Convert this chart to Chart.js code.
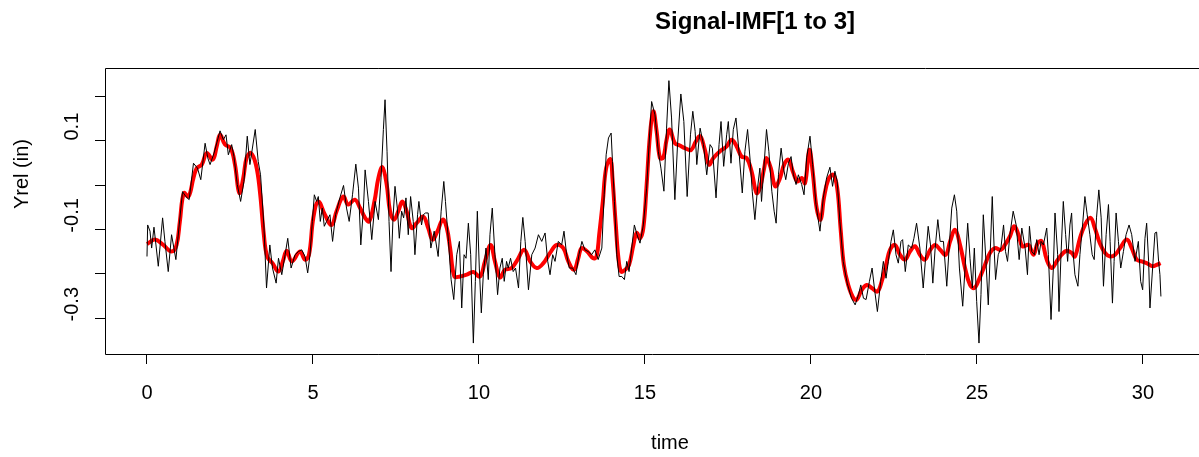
<!DOCTYPE html>
<html>
<head>
    <title>Signal-IMF[1 to 3]</title>
    <script src="https://cdn.jsdelivr.net/npm/chart.js"></script>
    <style>
        body { margin: 0; background: #fff; }
        #chart { display: block; }
    </style>
</head>
<body>
    <canvas id="chart" width="1199" height="457"></canvas>

    <script>
        // raw signal (black)
        const signalTime = [
            0.00,0.02,0.09,0.14,0.21,0.27,0.34,0.47,0.54,0.64,
            0.74,0.87,0.97,1.07,1.17,1.27,1.40,1.52,1.62,1.75,
            1.83,1.90,2.02,2.20,2.30,2.38,2.45,2.55,2.62,2.72,
            2.82,2.92,3.02,3.10,3.26,3.35,3.42,3.52,3.60,3.70,
            3.78,3.89,3.96,4.06,4.16,4.24,4.34,4.46,4.56,4.66,
            4.76,4.84,4.91,4.98,5.04,5.11,5.16,5.22,5.28,5.34,
            5.41,5.51,5.59,5.68,5.81,5.92,6.01,6.09,6.19,6.29,
            6.37,6.44,6.52,6.57,6.67,6.77,6.87,6.97,7.05,7.12,
            7.17,7.23,7.29,7.35,7.41,7.47,7.54,7.60,7.67,7.73,
            7.80,7.87,7.94,8.02,8.07,8.15,8.19,8.27,8.32,8.39,
            8.47,8.55,8.65,8.77,8.86,8.94,8.99,9.08,9.16,9.24,
            9.33,9.41,9.48,9.55,9.61,9.68,9.75,9.83,9.89,9.95,
            10.01,10.07,10.13,10.21,10.28,10.33,10.40,10.48,10.56,10.63,
            10.70,10.76,10.83,10.88,10.95,11.03,11.10,11.19,11.26,11.32,
            11.39,11.49,11.59,11.69,11.79,11.89,11.99,12.07,12.14,12.22,
            12.29,12.39,12.49,12.56,12.64,12.72,12.82,12.92,13.01,13.10,
            13.19,13.29,13.39,13.49,13.59,13.70,13.77,13.83,13.90,13.98,
            14.02,14.08,14.15,14.22,14.30,14.38,14.45,14.52,14.60,14.68,
            14.76,14.85,14.95,15.05,15.15,15.20,15.30,15.40,15.48,15.57,
            15.65,15.72,15.80,15.90,15.98,16.08,16.17,16.27,16.37,16.44,
            16.51,16.56,16.66,16.76,16.86,16.96,17.03,17.14,17.23,17.29,
            17.37,17.46,17.51,17.59,17.66,17.74,17.83,17.93,18.01,18.09,
            18.17,18.23,18.31,18.39,18.46,18.51,18.58,18.66,18.73,18.82,
            18.89,18.95,19.02,19.10,19.17,19.24,19.32,19.40,19.47,19.55,
            19.62,19.72,19.79,19.87,19.97,20.05,20.15,20.27,20.37,20.47,
            20.57,20.65,20.72,20.79,20.87,20.97,21.09,21.22,21.33,21.43,
            21.50,21.58,21.66,21.76,21.84,21.91,22.00,22.10,22.18,22.26,
            22.33,22.41,22.48,22.56,22.63,22.71,22.76,22.84,22.93,23.03,
            23.10,23.18,23.28,23.38,23.46,23.53,23.60,23.67,23.74,23.82,
            23.89,23.99,24.09,24.16,24.24,24.32,24.39,24.47,24.57,24.64,
            24.72,24.79,24.86,24.92,24.99,25.06,25.12,25.19,25.27,25.34,
            25.40,25.46,25.52,25.56,25.64,25.72,25.80,25.86,25.92,25.99,
            26.09,26.18,26.27,26.35,26.45,26.52,26.58,26.65,26.73,26.80,
            26.87,26.93,27.00,27.10,27.15,27.23,27.30,27.35,27.43,27.47,
            27.53,27.60,27.67,27.73,27.80,27.85,27.90,27.95,28.04,28.10,
            28.18,28.25,28.32,28.40,28.47,28.53,28.60,28.67,28.74,28.81,
            28.89,28.96,29.01,29.08,29.13,29.19,29.26,29.33,29.41,29.49,
            29.58,29.66,29.76,29.86,29.93,29.99,30.06,30.11,30.17,30.21,
            30.29,30.36,30.41,30.47,30.51,30.54
        ];
        const signalValue = [
            -0.161,-0.090,-0.104,-0.142,-0.095,-0.135,-0.183,-0.074,-0.127,-0.195,
            -0.112,-0.168,-0.090,-0.015,-0.026,-0.033,0.049,0.038,0.012,0.094,
            0.061,0.046,0.072,0.122,0.102,0.113,0.068,0.091,0.064,0.001,
            -0.037,0.008,0.110,0.046,0.125,0.053,0.023,-0.090,-0.232,-0.135,
            -0.187,-0.221,-0.165,-0.202,-0.157,-0.120,-0.187,-0.157,-0.150,-0.146,
            -0.161,-0.198,-0.157,-0.082,-0.022,-0.037,-0.026,-0.082,-0.052,-0.093,
            -0.082,-0.067,-0.127,-0.067,-0.029,-0.001,-0.052,-0.082,-0.022,0.047,
            -0.007,-0.135,-0.052,0.034,-0.037,-0.123,-0.037,-0.078,0.016,0.125,
            0.192,0.076,-0.082,-0.195,-0.074,-0.003,-0.052,-0.120,-0.059,-0.074,
            -0.029,-0.112,-0.026,-0.082,-0.157,-0.067,-0.037,-0.090,-0.067,-0.063,
            -0.063,-0.142,-0.104,-0.161,-0.059,0.008,-0.037,-0.127,-0.213,-0.258,
            -0.157,-0.127,-0.277,-0.157,-0.165,-0.086,-0.157,-0.356,-0.217,-0.059,
            -0.187,-0.288,-0.202,-0.142,-0.213,-0.112,-0.052,-0.157,-0.247,-0.187,
            -0.165,-0.217,-0.172,-0.187,-0.165,-0.195,-0.187,-0.232,-0.127,-0.073,
            -0.127,-0.236,-0.157,-0.142,-0.112,-0.127,-0.108,-0.172,-0.202,-0.157,
            -0.172,-0.127,-0.135,-0.104,-0.157,-0.187,-0.187,-0.202,-0.157,-0.127,
            -0.146,-0.150,-0.157,-0.146,-0.168,-0.142,-0.022,0.068,0.106,0.117,
            0.053,-0.037,-0.157,-0.206,-0.206,-0.213,-0.172,-0.195,-0.142,-0.090,
            -0.112,-0.131,-0.090,-0.007,0.128,0.188,0.158,0.076,0.038,-0.014,
            0.128,0.235,0.151,-0.033,0.091,0.205,0.143,-0.026,0.113,0.166,
            0.121,0.046,0.128,0.091,0.023,0.091,0.083,-0.029,0.091,0.143,
            0.042,0.113,0.143,0.049,0.125,0.151,0.076,-0.018,0.076,0.125,
            0.053,-0.014,-0.078,-0.007,0.038,-0.037,0.038,0.125,0.076,-0.014,
            -0.059,-0.086,0.023,0.083,0.038,0.012,0.049,0.064,0.023,0.001,
            0.023,0.001,-0.022,0.061,0.110,0.046,-0.044,-0.104,-0.029,0.016,
            0.040,-0.003,0.031,0.008,-0.082,-0.172,-0.221,-0.255,-0.270,-0.247,
            -0.225,-0.255,-0.258,-0.217,-0.187,-0.232,-0.285,-0.217,-0.172,-0.210,
            -0.172,-0.127,-0.101,-0.157,-0.176,-0.127,-0.123,-0.195,-0.135,-0.142,
            -0.120,-0.086,-0.142,-0.232,-0.157,-0.093,-0.135,-0.221,-0.142,-0.078,
            -0.127,-0.127,-0.228,-0.142,-0.052,-0.022,-0.059,-0.187,-0.273,-0.187,
            -0.086,-0.165,-0.232,-0.142,-0.262,-0.356,-0.247,-0.067,-0.172,-0.270,
            -0.150,-0.026,-0.150,-0.213,-0.157,-0.142,-0.090,-0.150,-0.172,-0.112,
            -0.059,-0.090,-0.168,-0.097,-0.142,-0.202,-0.093,-0.150,-0.157,-0.123,
            -0.157,-0.127,-0.135,-0.097,-0.157,-0.303,-0.187,-0.063,-0.157,-0.285,
            -0.157,-0.037,-0.112,-0.172,-0.090,-0.063,-0.157,-0.202,-0.228,-0.157,
            -0.090,-0.026,-0.067,-0.112,-0.157,-0.168,-0.074,-0.011,-0.074,-0.228,
            -0.112,-0.044,-0.127,-0.266,-0.172,-0.063,-0.127,-0.187,-0.150,-0.112,
            -0.090,-0.112,-0.172,-0.127,-0.217,-0.236,-0.120,-0.086,-0.172,-0.277,
            -0.187,-0.108,-0.106,-0.172,-0.202,-0.251
        ];

        // signal minus IMF 1..3 (red, smooth)
        const imfTime = [
            0.00,0.24,0.49,0.74,0.89,0.99,1.11,1.25,1.40,1.50,
            1.65,1.80,1.98,2.10,2.20,2.35,2.52,2.65,2.78,2.90,
            3.00,3.13,3.28,3.40,3.52,3.62,3.78,3.96,4.09,4.21,
            4.36,4.61,4.76,4.88,5.01,5.16,5.36,5.56,5.71,5.91,
            6.06,6.26,6.42,6.57,6.69,6.85,6.97,7.09,7.22,7.32,
            7.44,7.57,7.69,7.82,7.97,8.12,8.32,8.47,8.60,8.75,
            8.91,9.03,9.13,9.26,9.43,9.63,9.83,10.03,10.18,10.35,
            10.48,10.63,10.78,10.98,11.13,11.36,11.54,11.74,11.94,12.14,
            12.34,12.54,12.69,12.86,12.99,13.09,13.26,13.44,13.54,13.62,
            13.73,13.83,13.96,14.02,14.12,14.20,14.28,14.40,14.52,14.65,
            14.75,14.85,14.95,15.05,15.15,15.25,15.35,15.45,15.55,15.65,
            15.75,15.90,16.05,16.20,16.39,16.53,16.66,16.79,16.93,17.06,
            17.26,17.46,17.61,17.76,17.91,18.06,18.21,18.36,18.46,18.59,
            18.66,18.79,18.92,19.05,19.19,19.32,19.47,19.59,19.72,19.82,
            19.95,20.05,20.17,20.29,20.39,20.52,20.67,20.79,20.89,20.99,
            21.12,21.28,21.38,21.53,21.68,21.83,22.00,22.13,22.26,22.38,
            22.53,22.68,22.83,22.98,23.13,23.28,23.43,23.59,23.74,23.89,
            24.06,24.19,24.34,24.49,24.64,24.79,24.92,25.06,25.24,25.39,
            25.54,25.72,25.84,25.99,26.12,26.25,26.37,26.55,26.70,26.83,
            26.95,27.10,27.25,27.40,27.55,27.70,27.85,27.95,28.10,28.25,
            28.42,28.55,28.70,28.86,29.01,29.16,29.31,29.51,29.66,29.81,
            29.96,30.11,30.29,30.41,30.53
        ];
        const imfValue = [
            -0.133,-0.123,-0.135,-0.150,-0.135,-0.082,-0.018,-0.026,0.016,0.038,
            0.046,0.072,0.057,0.087,0.113,0.091,0.083,0.046,-0.018,0.016,
            0.061,0.072,0.046,-0.014,-0.112,-0.161,-0.176,-0.195,-0.172,-0.148,
            -0.172,-0.150,-0.168,-0.157,-0.074,-0.037,-0.067,-0.090,-0.059,-0.026,
            -0.044,-0.033,-0.052,-0.074,-0.082,-0.037,0.016,0.040,0.001,-0.059,
            -0.078,-0.059,-0.037,-0.059,-0.097,-0.086,-0.071,-0.097,-0.123,-0.104,
            -0.078,-0.097,-0.142,-0.206,-0.206,-0.202,-0.196,-0.206,-0.172,-0.135,
            -0.172,-0.208,-0.191,-0.187,-0.172,-0.146,-0.172,-0.187,-0.176,-0.153,
            -0.135,-0.142,-0.172,-0.191,-0.165,-0.142,-0.150,-0.165,-0.161,-0.112,
            -0.037,0.038,0.058,0.016,-0.090,-0.165,-0.195,-0.191,-0.180,-0.135,
            -0.108,-0.120,-0.097,0.001,0.113,0.166,0.121,0.061,0.061,0.102,
            0.125,0.094,0.089,0.083,0.079,0.098,0.110,0.083,0.046,0.061,
            0.076,0.087,0.102,0.087,0.064,0.061,0.031,-0.018,-0.007,0.038,
            0.061,0.038,-0.003,0.012,0.046,0.057,0.027,0.008,0.016,0.004,
            0.079,0.031,-0.052,-0.078,-0.029,0.012,0.023,-0.007,-0.097,-0.180,
            -0.225,-0.255,-0.258,-0.236,-0.225,-0.232,-0.240,-0.217,-0.180,-0.146,
            -0.135,-0.157,-0.168,-0.150,-0.138,-0.157,-0.168,-0.146,-0.135,-0.146,
            -0.157,-0.127,-0.101,-0.135,-0.187,-0.225,-0.232,-0.213,-0.180,-0.153,
            -0.142,-0.146,-0.135,-0.116,-0.093,-0.112,-0.138,-0.135,-0.157,-0.131,
            -0.127,-0.168,-0.187,-0.172,-0.157,-0.148,-0.153,-0.161,-0.120,-0.090,
            -0.074,-0.097,-0.131,-0.153,-0.161,-0.157,-0.142,-0.123,-0.142,-0.168,
            -0.172,-0.176,-0.183,-0.180,-0.176
        ];

        const xTicks = [0, 5, 10, 15, 20, 25, 30];
        const yTicks = [-0.3, -0.2, -0.1, 0, 0.1, 0.2];
        // R only prints every other y label
        const yLabelValues = [-0.3, -0.1, 0.1];
        const yLabelText = ['-0.3', '-0.1', '0.1'];

        const FONT = '"Liberation Sans", Arial, Helvetica, sans-serif';

        // box, rotated y labels and the three titles, R style
        const rDecor = {
            id: 'rDecor',
            afterDraw(chart) {
                const ctx = chart.ctx;
                const a = chart.chartArea;
                const ys = chart.scales.y;
                ctx.save();
                ctx.strokeStyle = '#000';
                ctx.lineWidth = 1;
                ctx.beginPath();
                ctx.moveTo(a.right, a.top + 0.5);
                ctx.lineTo(a.left + 0.5, a.top + 0.5);
                ctx.lineTo(a.left + 0.5, a.bottom + 0.5);
                ctx.lineTo(a.right, a.bottom + 0.5);
                ctx.stroke();

                ctx.fillStyle = '#000';
                ctx.textAlign = 'center';
                ctx.textBaseline = 'middle';
                ctx.font = '20px ' + FONT;
                yLabelValues.forEach((v, i) => {
                    ctx.save();
                    ctx.translate(72, ys.getPixelForValue(v) - 14);
                    ctx.rotate(-Math.PI / 2);
                    ctx.fillText(yLabelText[i], 0, 0);
                    ctx.restore();
                });

                ctx.save();
                ctx.translate(22, 174);
                ctx.rotate(-Math.PI / 2);
                ctx.fillText('Yrel (in)', 0, 0);
                ctx.restore();

                ctx.fillText('time', 670, 443);

                ctx.font = 'bold 24px ' + FONT;
                ctx.fillText('Signal-IMF[1 to 3]', 755, 22);
                ctx.restore();
            }
        };

        new Chart(document.getElementById('chart'), {
            type: 'line',
            data: {
                datasets: [{
                    label: 'signal',
                    data: signalTime.map((t, i) => ({ x: t, y: signalValue[i] })),
                    borderColor: '#000000',
                    borderWidth: 1,
                    pointRadius: 0,
                    tension: 0
                }, {
                    label: 'Signal-IMF[1 to 3]',
                    data: imfTime.map((t, i) => ({ x: t, y: imfValue[i] })),
                    borderColor: '#ff0000',
                    borderWidth: 4,
                    pointRadius: 0,
                    tension: 0.4
                }]
            },
            options: {
                responsive: false,
                animation: false,
                devicePixelRatio: 1,
                layout: { padding: { top: 68, right: 0, bottom: 0, left: 0 } },
                plugins: {
                    legend: { display: false },
                    tooltip: { enabled: false }
                },
                scales: {
                    x: {
                        type: 'linear',
                        min: -1.265,
                        max: 31.687,
                        afterBuildTicks: s => { s.ticks = xTicks.map(v => ({ value: v })); },
                        afterFit: s => { s.height = 103; s.paddingLeft = 0; s.paddingRight = 0; },
                        grid: { drawOnChartArea: false, tickLength: 10, color: '#000' },
                        border: { display: false },
                        ticks: {
                            color: '#000',
                            font: { family: FONT, size: 20 },
                            padding: 17,
                            maxRotation: 0,
                            autoSkip: false,
                            callback: v => String(v)
                        }
                    },
                    y: {
                        min: -0.3806,
                        max: 0.2635,
                        afterBuildTicks: s => { s.ticks = yTicks.map(v => ({ value: v })); },
                        afterFit: s => { s.width = 105; s.paddingTop = 0; s.paddingBottom = 0; },
                        grid: { drawOnChartArea: false, tickLength: 10, color: '#000' },
                        border: { display: false },
                        ticks: { display: false }
                    }
                }
            },
            plugins: [rDecor]
        });
    </script>
</body>
</html>
